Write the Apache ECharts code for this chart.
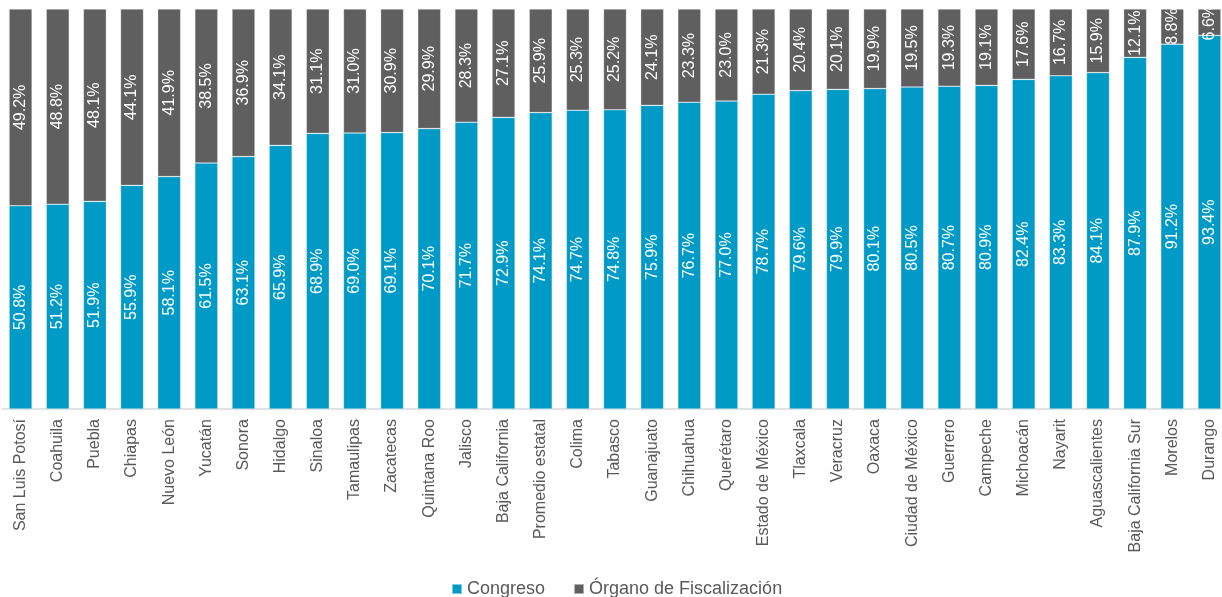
<!DOCTYPE html>
<html>
<head>
<meta charset="utf-8">
<script src="https://cdn.jsdelivr.net/npm/echarts@6/dist/echarts.min.js"></script>
<style>
html,body{margin:0;padding:0;background:#fff;}
#chart{width:1222px;height:597px;}
</style>
</head>
<body>
<div id="chart"></div>
<script>
const categories = ["San Luis Potosí","Coahuila","Puebla","Chiapas","Nuevo León","Yucatán","Sonora","Hidalgo","Sinaloa","Tamaulipas","Zacatecas","Quintana Roo","Jalisco","Baja California","Promedio estatal","Colima","Tabasco","Guanajuato","Chihuahua","Querétaro","Estado de México","Tlaxcala","Veracruz","Oaxaca","Ciudad de México","Guerrero","Campeche","Michoacán","Nayarit","Aguascalientes","Baja California Sur","Morelos","Durango"];
const congreso = [50.8,51.2,51.9,55.9,58.1,61.5,63.1,65.9,68.9,69.0,69.1,70.1,71.7,72.9,74.1,74.7,74.8,75.9,76.7,77.0,78.7,79.6,79.9,80.1,80.5,80.7,80.9,82.4,83.3,84.1,87.9,91.2,93.4];
const organo = [49.2,48.8,48.1,44.1,41.9,38.5,36.9,34.1,31.1,31.0,30.9,29.9,28.3,27.1,25.9,25.3,25.2,24.1,23.3,23.0,21.3,20.4,20.1,19.9,19.5,19.3,19.1,17.6,16.7,15.9,12.1,8.8,6.6];
const seriesNames = ["Congreso","Órgano de Fiscalización"];

const FONT = "'Liberation Sans', Arial, sans-serif";
const chart = echarts.init(document.getElementById('chart'));
const labelCfg = {
  show: true, position: 'inside', rotate: 90, color: '#ffffff',
  fontSize: 16, fontFamily: FONT,
  formatter: p => p.value.toFixed(1) + '%'
};
chart.setOption({
  animation: false,
  color: ['#009ac6', '#5f5f5f'],
  grid: {left: 2, top: 9, width: 1226, height: 400, containLabel: false, outerBoundsMode: 'none'},
  legend: {
    left: 446, top: 575, itemWidth: 10, itemHeight: 10, itemGap: 28,
    icon: 'rect',
    textStyle: {color: '#595959', fontSize: 18, fontFamily: FONT},
    data: seriesNames
  },
  xAxis: {
    type: 'category', data: categories,
    axisLine: {lineStyle: {color: '#d9d9d9', width: 1.5}},
    axisTick: {show: false},
    axisLabel: {rotate: 90, color: '#595959', fontSize: 16, fontFamily: FONT, margin: 10, interval: 0}
  },
  yAxis: {type: 'value', min: 0, max: 100, show: false, splitLine: {show: false}},
  series: [
    {name: seriesNames[0], type: 'bar', stack: 'total', data: congreso, barWidth: 23,
     itemStyle: {borderColor: 'rgba(255,255,255,0.5)', borderWidth: 0.6}, label: labelCfg},
    {name: seriesNames[1], type: 'bar', stack: 'total', data: organo, barWidth: 23,
     itemStyle: {borderColor: 'rgba(255,255,255,0.5)', borderWidth: 0.6}, label: labelCfg}
  ]
});
</script>
</body>
</html>
